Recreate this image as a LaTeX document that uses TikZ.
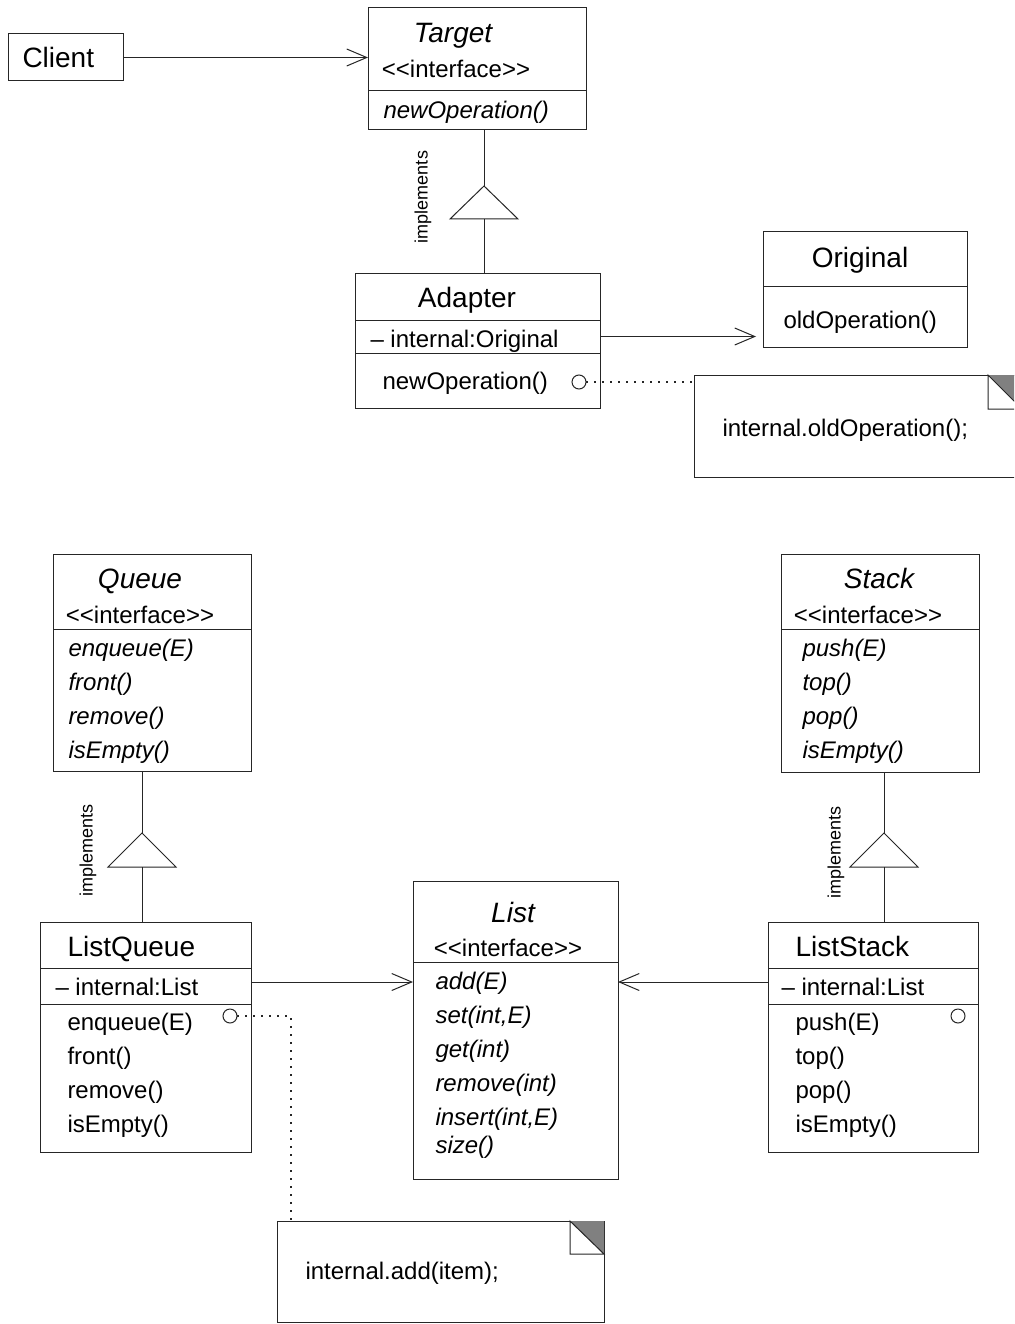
\documentclass[tikz,border=0pt]{standalone}
\usepackage{fontspec}
\setmainfont{Liberation Sans}[Ligatures=TeXOff]
\usetikzlibrary{arrows.meta}

\begin{document}
\begin{tikzpicture}[x=1pt, y=-1pt, line width=1pt, draw=black!85,
  comp/.style={draw, inner sep=0pt, outer sep=0pt, anchor=north west},
  big/.style={font=\fontsize{28}{32}\selectfont, inner sep=0pt, text height=20pt, text depth=0pt},
  small/.style={font=\fontsize{24}{28}\selectfont, inner sep=0pt, text height=17.2pt, text depth=0pt},
  lbl/.style={font=\fontsize{18}{20}\selectfont, inner sep=0pt, rotate=90},
  port/.style={circle, draw, minimum size=14pt, inner sep=0pt, outer sep=0pt},
  assoc/.style={-{Straight Barb[length=20pt, width=17pt]}},
  dots/.style={line width=1.2pt, dash pattern=on 1.5pt off 6.5pt},
  notebox/.style={draw, inner sep=0pt, outer sep=0pt, anchor=north west},
  foldfill/.style={fill=black!50},
  gentri/.style={draw, fill=white}
]
\clip (0,0) rectangle (1014,1324);
\fill[white] (0,0) rectangle (1014,1324);

% ---------- Client ----------
\node[comp, minimum width=115pt, minimum height=47pt] (client) at (8,34) {};
\node[big, anchor=west] (clientName) at (22,58) {Client};

% ---------- Target interface ----------
\node[comp, minimum width=218pt, minimum height=83pt] (tgtHead) at (368,8) {};
\node[comp, minimum width=218pt, minimum height=39pt] (tgtOps) at (368,91) {};
\node[big] (tgtName) at (453,33) {\itshape Target};
\node[small] (tgtStereo) at (456,69) {<<interface>>};
\node[small, anchor=west] (tgtOp) at (383,110) {\itshape newOperation()};

\draw[assoc] (client.east) -- (client.east -| tgtHead.west);

% ---------- Adapter ----------
\node[comp, minimum width=245pt, minimum height=47pt] (adHead) at (355,273) {};
\node[comp, minimum width=245pt, minimum height=33pt] (adAttr) at (355,320) {};
\node[comp, minimum width=245pt, minimum height=55pt] (adOps) at (355,353) {};
\node[big] (adName) at (467,297) {Adapter};
\node[small, anchor=west] (adField) at (370,339) {– internal:Original};
\node[small, anchor=west] (adOp) at (382,381) {newOperation()};
\node[port] (portA) at (579,382) {};

% Adapter implements Target
\coordinate (tgtTip) at (484,186);
\coordinate (tgtFoot) at (484,219);
\draw (tgtOps.south -| tgtTip) -- (tgtTip);
\draw[gentri] (tgtTip) -- ++(-34,33) -- ++(68,0) -- cycle;
\draw (tgtFoot) -- (tgtFoot |- adHead.north);
\node[lbl] (implA) at (423,197) {implements};

% ---------- Original ----------
\node[comp, minimum width=204pt, minimum height=54pt] (orHead) at (763,232) {};
\node[comp, minimum width=204pt, minimum height=61pt] (orOps) at (763,286) {};
\node[big] (orName) at (860,257) {Original};
\node[small, anchor=west] (orOp) at (783,320) {oldOperation()};

\draw[assoc, shorten >=7pt] (adAttr.east) -- (adAttr.east -| orHead.west);

% ---------- note on newOperation() ----------
\node[notebox, minimum width=328pt, minimum height=102pt] (noteA) at (694,375) {};
\fill[foldfill] (988,375) -- (1022,375) -- (1022,409) -- cycle;
\draw (988,375) -- (988,409) -- (1022,409) -- cycle;
\node[small, anchor=west] (noteAText) at (722,428) {internal.oldOperation();};
\draw[dots] (portA.east) -- (portA -| noteA.west);

% ---------- Queue interface ----------
\node[comp, minimum width=198pt, minimum height=75pt] (qHead) at (53,554) {};
\node[comp, minimum width=198pt, minimum height=142pt] (qOps) at (53,629) {};
\node[big] (qName) at (140,578) {\itshape Queue};
\node[small] (qStereo) at (140,615) {<<interface>>};
\node[small, anchor=west] (qOp1) at (68,648) {\itshape enqueue(E)};
\node[small, anchor=west] (qOp2) at (68,682) {\itshape front()};
\node[small, anchor=west] (qOp3) at (68,716) {\itshape remove()};
\node[small, anchor=west] (qOp4) at (68,750) {\itshape isEmpty()};

% ---------- Stack interface ----------
\node[comp, minimum width=198pt, minimum height=75pt] (sHead) at (781,554) {};
\node[comp, minimum width=198pt, minimum height=143pt] (sOps) at (781,629) {};
\node[big] (sName) at (879,578) {\itshape Stack};
\node[small] (sStereo) at (868,615) {<<interface>>};
\node[small, anchor=west] (sOp1) at (802,648) {\itshape push(E)};
\node[small, anchor=west] (sOp2) at (802,682) {\itshape top()};
\node[small, anchor=west] (sOp3) at (802,716) {\itshape pop()};
\node[small, anchor=west] (sOp4) at (802,750) {\itshape isEmpty()};

% ---------- List interface ----------
\node[comp, minimum width=205pt, minimum height=81pt] (lHead) at (413,881) {};
\node[comp, minimum width=205pt, minimum height=217pt] (lOps) at (413,962) {};
\node[big] (lName) at (513,912) {\itshape List};
\node[small] (lStereo) at (508,948) {<<interface>>};
\node[small, anchor=west] (lOp1) at (435,981) {\itshape add(E)};
\node[small, anchor=west] (lOp2) at (435,1015) {\itshape set(int,E)};
\node[small, anchor=west] (lOp3) at (435,1049) {\itshape get(int)};
\node[small, anchor=west] (lOp4) at (435,1083) {\itshape remove(int)};
\node[small, anchor=west] (lOp5) at (435,1117) {\itshape insert(int,E)};
\node[small, anchor=west] (lOp6) at (435,1145) {\itshape size()};

% ---------- ListQueue ----------
\node[comp, minimum width=211pt, minimum height=46pt] (lqHead) at (40,922) {};
\node[comp, minimum width=211pt, minimum height=36pt] (lqAttr) at (40,968) {};
\node[comp, minimum width=211pt, minimum height=148pt] (lqOps) at (40,1004) {};
\node[big, anchor=west] (lqName) at (67,946) {ListQueue};
\node[small, anchor=west] (lqField) at (55,987) {– internal:List};
\node[small, anchor=west] (lqOp1) at (67,1022) {enqueue(E)};
\node[small, anchor=west] (lqOp2) at (67,1056) {front()};
\node[small, anchor=west] (lqOp3) at (67,1090) {remove()};
\node[small, anchor=west] (lqOp4) at (67,1124) {isEmpty()};
\node[port] (portQ) at (230,1016) {};

% ListQueue implements Queue
\coordinate (qTip) at (142,833);
\coordinate (qFoot) at (142,867);
\draw (qOps.south -| qTip) -- (qTip);
\draw[gentri] (qTip) -- ++(-34,34) -- ++(68,0) -- cycle;
\draw (qFoot) -- (qFoot |- lqHead.north);
\node[lbl] (implQ) at (88,850) {implements};

% ---------- ListStack ----------
\node[comp, minimum width=210pt, minimum height=46pt] (lsHead) at (768,922) {};
\node[comp, minimum width=210pt, minimum height=36pt] (lsAttr) at (768,968) {};
\node[comp, minimum width=210pt, minimum height=148pt] (lsOps) at (768,1004) {};
\node[big, anchor=west] (lsName) at (795,946) {ListStack};
\node[small, anchor=west] (lsField) at (781,987) {– internal:List};
\node[small, anchor=west] (lsOp1) at (795,1022) {push(E)};
\node[small, anchor=west] (lsOp2) at (795,1056) {top()};
\node[small, anchor=west] (lsOp3) at (795,1090) {pop()};
\node[small, anchor=west] (lsOp4) at (795,1124) {isEmpty()};
\node[port] (portS) at (958,1016) {};

% ListStack implements Stack
\coordinate (sTip) at (884,833);
\coordinate (sFoot) at (884,867);
\draw (sOps.south -| sTip) -- (sTip);
\draw[gentri] (sTip) -- ++(-34,34) -- ++(68,0) -- cycle;
\draw (sFoot) -- (sFoot |- lsHead.north);
\node[lbl] (implS) at (836,852) {implements};

% ---------- associations to List ----------
\coordinate (lqOut) at ([yshift=4pt]lqAttr.east);
\coordinate (lsOut) at ([yshift=4pt]lsAttr.west);
\draw[assoc] (lqOut) -- (lqOut -| lOps.west);
\draw[assoc] (lsOut) -- (lsOut -| lOps.east);

% ---------- note on enqueue(E) ----------
\node[notebox, minimum width=327pt, minimum height=101pt] (noteQ) at (277,1221) {};
\fill[foldfill] (570,1221) -- (604,1221) -- (604,1254) -- cycle;
\draw (570,1221) -- (570,1254) -- (604,1254) -- cycle;
\node[small, anchor=west] (noteQText) at (305,1271) {internal.add(item);};
\coordinate (bendQ) at (291,1016);
\draw[dots] (portQ.east) -- (bendQ) -- (bendQ |- noteQ.north);
\end{tikzpicture}
\end{document}
